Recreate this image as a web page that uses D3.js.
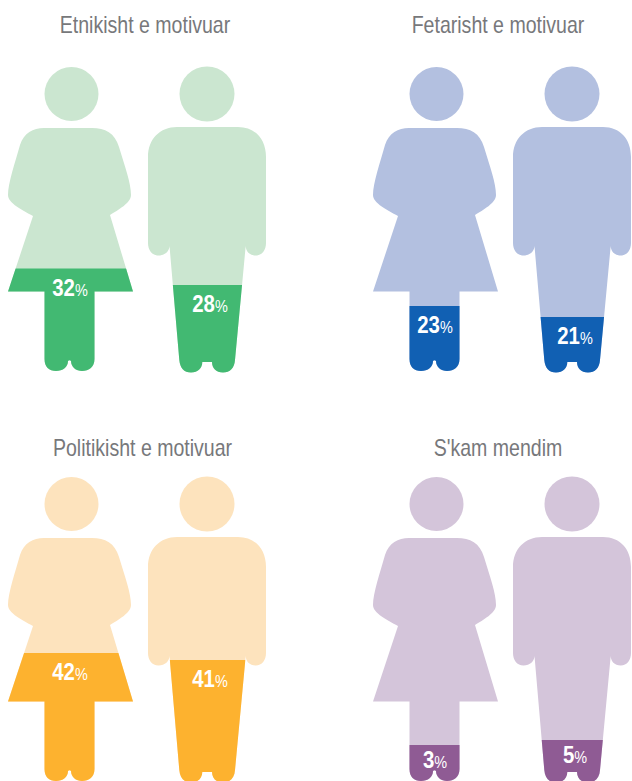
<!DOCTYPE html>
<meta charset="utf-8">
<script src="https://d3js.org/d3.v7.min.js"></script>
<style>
    body { margin: 0; background: #fff; }
    svg { display: block; }
    text { font-family: "Liberation Sans", sans-serif; }
</style>
<div id="chart"></div>
<script>
    // values
    const titles = ["Etnikisht e motivuar", "Fetarisht e motivuar", "Politikisht e motivuar", "S'kam mendim"];
    const women = [32, 23, 42, 3];
    const men = [28, 21, 41, 5];
    const lightColors = ["#cbe6d0", "#b3c0e0", "#fde3bd", "#d4c5da"];
    const darkColors = ["#42b972", "#1160b3", "#fdb22f", "#8f5b94"];

    const width = 632, height = 781;

    // silhouettes, drawn in the coordinates of the first panel
    const womanBody = "M44 128H92C105 128 115 133 119 147C125 167 131 183 131 195C131 203 118 210 110 215L133 291.5H94.5V359C94.5 367 89 371 82 371C76 371 71 367 71 361Q69.5 359.5 68 361C68 367 63 371 56 371C49 371 44.5 367 44.5 359V291.5H8L33 216C22 210 8 203 8 195C8 183 15 163 20 145C24 133 33 128 44 128Z";
    const manBody = "M177 127H238C255 127 266 139 266 157V243C266 250 262 255.5 255.7 255.5C249.5 255.5 245.7 251 245.7 246L235 360C234.5 368 230 372.5 223 372.5C216 372.5 212 368 212 362H202.3C202.3 368 198 372.5 191 372.5C184 372.5 180 368 179.3 360L169.5 246C169.5 251 165 255.5 158.5 255.5C152 255.5 148 250 148 243V157C148 139 160 127 177 127Z";

    const svg = d3.select("#chart").append("svg")
        .attr("width", width)
        .attr("height", height);

    const col = d3.scalePoint().domain([0, 1]).range([0, 365]);
    const row = d3.scalePoint().domain([0, 1]).range([0, 410]);

    // the fill heights in the picture are not proportional, so this is piecewise
    const level = d3.scaleLinear()
        .domain([0, 3, 5, 21, 23, 28, 32, 41, 42])
        .range([372, 335, 330, 317, 306, 285, 268.5, 250, 243]);

    // the man's arms never fill, so his clip only spans the trunk
    const people = [
        { body: womanBody, cx: 71.5, cy: 94, r: 27, labelX: 70, clipX: 0, clipW: 140, values: women },
        { body: manBody, cx: 207, cy: 94, r: 27.5, labelX: 210, clipX: 169.5, clipW: 76.2, values: men }
    ];

    // no narrow font is installed, so text gets squeezed sideways
    function squeezed(sel, x, y, k) {
        return sel.attr("text-anchor", "middle")
            .attr("transform", "translate(" + x + "," + y + ") scale(" + k + ",1)");
    }

    const titleX = [145, 133, 142.5, 133];
    const titleY = [33, 33, 45.5, 45.5];

    titles.forEach(function (title, i) {
        const g = svg.append("g")
            .attr("transform", "translate(" + col(i % 2) + "," + row(Math.floor(i / 2)) + ")");

        g.append("text")
            .call(squeezed, titleX[i], titleY[i], 0.85)
            .attr("font-size", 23)
            .attr("fill", "#77787b")
            .text(title);

        people.forEach(function (p, j) {
            const value = p.values[i];
            const clipId = "clip-" + i + "-" + j;

            g.append("clipPath").attr("id", clipId)
                .append("rect")
                .attr("x", p.clipX)
                .attr("y", level(value))
                .attr("width", p.clipW)
                .attr("height", 140);

            g.append("circle")
                .attr("cx", p.cx)
                .attr("cy", p.cy)
                .attr("r", p.r)
                .attr("fill", lightColors[i]);

            g.append("path").attr("d", p.body).attr("fill", lightColors[i]);

            g.append("path")
                .attr("d", p.body)
                .attr("fill", darkColors[i])
                .attr("clip-path", "url(#" + clipId + ")");

            // small shares sit closer to the top of the fill
            const label = g.append("text")
                .call(squeezed, p.labelX, level(value) + (value < 10 ? 23 : 27), 0.85)
                .attr("fill", "#fff");
            label.append("tspan")
                .attr("font-size", 24)
                .attr("font-weight", "bold")
                .text(value);
            label.append("tspan")
                .attr("font-size", 17)
                .text("%");
        });
    });
</script>
